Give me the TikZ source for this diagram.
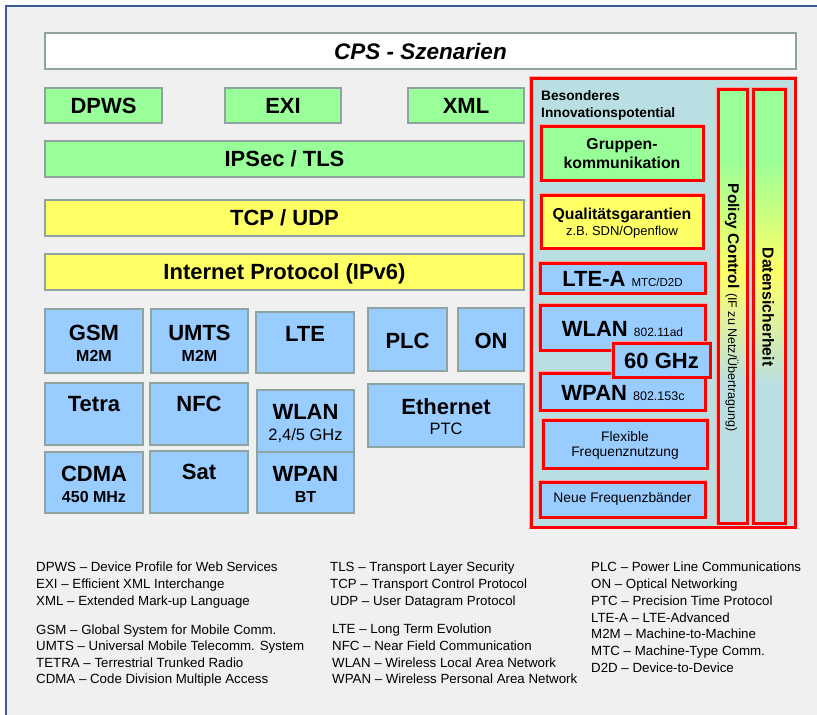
\documentclass[tikz,border=0pt]{standalone}
\usepackage{fontspec}
\setmainfont{Liberation Sans}

\definecolor{grn}{RGB}{153,255,153}
\definecolor{yel}{RGB}{255,255,102}
\definecolor{blu}{RGB}{153,204,255}
\definecolor{panel}{RGB}{185,223,226}
\definecolor{edge}{RGB}{143,163,163}
\definecolor{framecol}{RGB}{58,92,150}
\definecolor{pagebg}{RGB}{240,240,240}

% green -> yellow -> panel colour, top to bottom
\pgfdeclareverticalshading{barfade}{100bp}{color(0bp)=(panel); color(41bp)=(panel); color(54bp)=(yel); color(67bp)=(grn); color(100bp)=(grn)}

\newcommand\fs[1]{\fontsize{#1}{#1}\selectfont}
% \boxat{style}{x1}{y1}{x2}{y2}{name}
\newcommand\boxat[6]{\node[#1, minimum width={#4-#2}, minimum height={#5-#3}] (#6) at ({(#2+#4)/2},{(#3+#5)/2}) {};}

\tikzset{
  box/.style={draw=edge, line width=1.8pt, inner sep=0pt, outer sep=0pt},
  greenbox/.style={box, fill=grn},
  yellowbox/.style={box, fill=yel},
  bluebox/.style={box, fill=blu},
  hot/.style={draw=red, line width=3pt, inner sep=0pt, outer sep=0pt,
    preaction={draw=red!35, line width=4.6pt}},
  hotgreen/.style={hot, fill=grn},
  hotyellow/.style={hot, fill=yel},
  hotblue/.style={hot, fill=blu},
  lab/.style={anchor=base, inner sep=0pt, font=\fs{22}\bfseries},
  sub/.style={anchor=base, inner sep=0pt, font=\fs{16}\bfseries},
  subreg/.style={anchor=base, inner sep=0pt, font=\fs{16.5}},
  mid/.style={anchor=base, inner sep=0pt, font=\fs{15.8}\bfseries},
  small/.style={anchor=base, inner sep=0pt, font=\fs{13.8}},
  legend/.style={anchor=base west, inner sep=0pt, font=\fs{13.3}},
}

\begin{document}
\begin{tikzpicture}[x=1pt, y=-1pt]
\useasboundingbox (0,0) rectangle (817,715);
\fill[white] (0,0) rectangle (817,715);
\fill[pagebg] (6,6) rectangle (817,715);
\draw[framecol, line width=2pt] (6,715) -- (6,6) -- (817,6);

% ---------- protocol stack ----------
\boxat{box, fill=white}{45}{33}{796}{69}{cps}
\node[anchor=base, inner sep=0pt, font=\fs{22.5}\bfseries\itshape] (cpsT) at (420.5,59) {CPS - Szenarien};

\boxat{greenbox}{45}{88}{162}{123}{dpws}
\boxat{greenbox}{225}{88}{341}{123}{exi}
\boxat{greenbox}{408}{88}{524}{123}{xml}
\node[lab] (dpwsT) at (103.5,113.3) {DPWS};
\node[lab] (exiT) at (283,113.3) {EXI};
\node[lab] (xmlT) at (466,113.3) {XML};

\boxat{greenbox}{45}{141}{524}{177}{ipsec}
\node[lab] (ipsecT) at (284.5,166.8) {IPSec / TLS};
\boxat{yellowbox}{45}{200}{524}{236}{tcp}
\node[lab] (tcpT) at (284.5,225.8) {TCP / UDP};
\boxat{yellowbox}{45}{254}{524}{290}{ip}
\node[lab] (ipT) at (284.5,279.8) {Internet Protocol (IPv6)};

% ---------- access technologies ----------
\boxat{bluebox}{45}{309}{143}{373}{gsm}
\node[lab] (gsmT) at (94,340.2) {GSM};
\node[sub] (gsmS) at (94,361.3) {M2M};
\boxat{bluebox}{151}{309}{248}{373}{umts}
\node[lab] (umtsT) at (199.5,340.2) {UMTS};
\node[sub] (umtsS) at (199.5,361.3) {M2M};
\boxat{bluebox}{256}{312}{354}{373}{lte}
\node[lab] (lteT) at (305,341.8) {LTE};
\boxat{bluebox}{368}{308}{447}{371}{plc}
\node[lab] (plcT) at (407.5,348.2) {PLC};
\boxat{bluebox}{458}{308}{524}{371}{on}
\node[lab] (onT) at (491,348.2) {ON};

\boxat{bluebox}{45}{383}{143}{445}{tetra}
\node[lab] (tetraT) at (94,411.8) {Tetra};
\boxat{bluebox}{150}{383}{248}{445}{nfc}
\node[lab] (nfcT) at (199,411.8) {NFC};
\boxat{bluebox}{257}{390}{354}{452}{wlan}
\node[lab] (wlanT) at (305.5,419.8) {WLAN};
\node[subreg] (wlanS) at (305.5,440.8) {2,4/5 GHz};
\boxat{bluebox}{368}{384}{524}{447}{eth}
\node[lab] (ethT) at (446,414.8) {Ethernet};
\node[subreg] (ethS) at (446,434.8) {PTC};

\boxat{bluebox}{45}{452}{143}{513}{cdma}
\node[lab] (cdmaT) at (94,481.8) {CDMA};
\node[sub] (cdmaS) at (94,502.3) {450 MHz};
\boxat{bluebox}{150}{451}{248}{513}{sat}
\node[lab] (satT) at (199,479.8) {Sat};
\boxat{bluebox}{257}{452}{354}{513}{wpan}
\node[lab] (wpanT) at (305.5,481.8) {WPAN};
\node[sub] (wpanS) at (305.5,502.8) {BT};

% ---------- innovation panel ----------
\boxat{hot, fill=panel}{531}{78}{795}{527}{panelbox}
\node[anchor=base west, inner sep=0pt, font=\fs{13.7}\bfseries] (bes1) at (541,100.9) {Besonderes};
\node[anchor=base west, inner sep=0pt, font=\fs{13.7}\bfseries] (bes2) at (541,117.4) {Innovationspotential};

\boxat{hotgreen}{541}{126}{703}{180}{grp}
\node[mid] (grpT1) at (622,149.2) {Gruppen-};
\node[mid] (grpT2) at (622,168.2) {kommunikation};
\boxat{hotyellow}{541}{195}{703}{248}{qos}
\node[mid] (qosT) at (622,219.7) {Qualitätsgarantien};
\node[anchor=base, inner sep=0pt, font=\fs{13}] (qosS) at (622,235.5) {z.B. SDN/Openflow};

\boxat{hotblue}{540}{263}{705}{293}{ltea}
\node[anchor=base, inner sep=0pt] (lteaT) at (622.5,286.7) {\fs{22}\bfseries LTE-A \fs{11.5}\mdseries MTC/D2D};
\boxat{hotblue}{540}{305}{705}{350}{wlanad}
\node[anchor=base, inner sep=0pt] (wlanadT) at (622.5,336) {\fs{22}\bfseries WLAN \fs{12}\mdseries 802.11ad};
\boxat{hotblue}{540}{373}{705}{410}{wpanc}
\node[anchor=base, inner sep=0pt] (wpancT) at (623,400) {\fs{22}\bfseries WPAN \fs{12.5}\mdseries 802.153c};
\boxat{hotblue}{613}{343}{710}{377}{ghz}
\node[lab] (ghzT) at (661.5,368.2) {60 GHz};

\boxat{hotblue}{543}{420}{707}{468}{flex}
\node[small] (flexT1) at (625,441.6) {Flexible};
\node[small] (flexT2) at (625,456.6) {Frequenznutzung};
\boxat{hotblue}{540}{482}{705}{517}{neu}
\node[small] (neuT) at (622.5,502.9) {Neue Frequenzbänder};

% vertical bars
\boxat{hot, shading=barfade}{718}{89}{747}{523}{policy}
\node[anchor=base, inner sep=0pt, rotate=-90] (policyT) at (728,307.5)
  {\fs{15.5}\bfseries Policy Control \fs{12.5}\mdseries (IF zu Netz/Übertragung)};
\boxat{hot, shading=barfade}{753}{89}{785}{523}{daten}
\node[anchor=base, inner sep=0pt, rotate=-90, font=\fs{15.8}\bfseries] (datenT) at (762.7,307) {Datensicherheit};

% ---------- abbreviations ----------
\node[legend] (a1) at (36,571.5) {DPWS – Device Profile for Web Services};
\node[legend] (a2) at (36,588) {EXI – Efficient XML Interchange};
\node[legend] (a3) at (36,605) {XML – Extended Mark-up Language};
\node[legend] (a4) at (36,634) {GSM – Global System for Mobile Comm.};
\node[legend] (a5) at (36,650.5) {UMTS – Universal Mobile Telecomm. System};
\node[legend] (a6) at (36,667) {TETRA – Terrestrial Trunked Radio};
\node[legend] (a7) at (36,683.5) {CDMA – Code Division Multiple Access};

\node[legend] (b1) at (330,571.5) {TLS – Transport Layer Security};
\node[legend] (b2) at (330,588) {TCP – Transport Control Protocol};
\node[legend] (b3) at (330,605) {UDP – User Datagram Protocol};
\node[legend] (b4) at (332,633.5) {LTE – Long Term Evolution};
\node[legend] (b5) at (332,650.5) {NFC – Near Field Communication};
\node[legend] (b6) at (332,667) {WLAN – Wireless Local Area Network};
\node[legend] (b7) at (332,683) {WPAN – Wireless Personal Area Network};

\node[legend] (c1) at (591,571.5) {PLC – Power Line Communications};
\node[legend] (c2) at (591,588) {ON – Optical Networking};
\node[legend] (c3) at (591,605) {PTC – Precision Time Protocol};
\node[legend] (c4) at (591,622) {LTE-A – LTE-Advanced};
\node[legend] (c5) at (591,638.5) {M2M – Machine-to-Machine};
\node[legend] (c6) at (591,655.5) {MTC – Machine-Type Comm.};
\node[legend] (c7) at (591,672) {D2D – Device-to-Device};
\end{tikzpicture}
\end{document}
